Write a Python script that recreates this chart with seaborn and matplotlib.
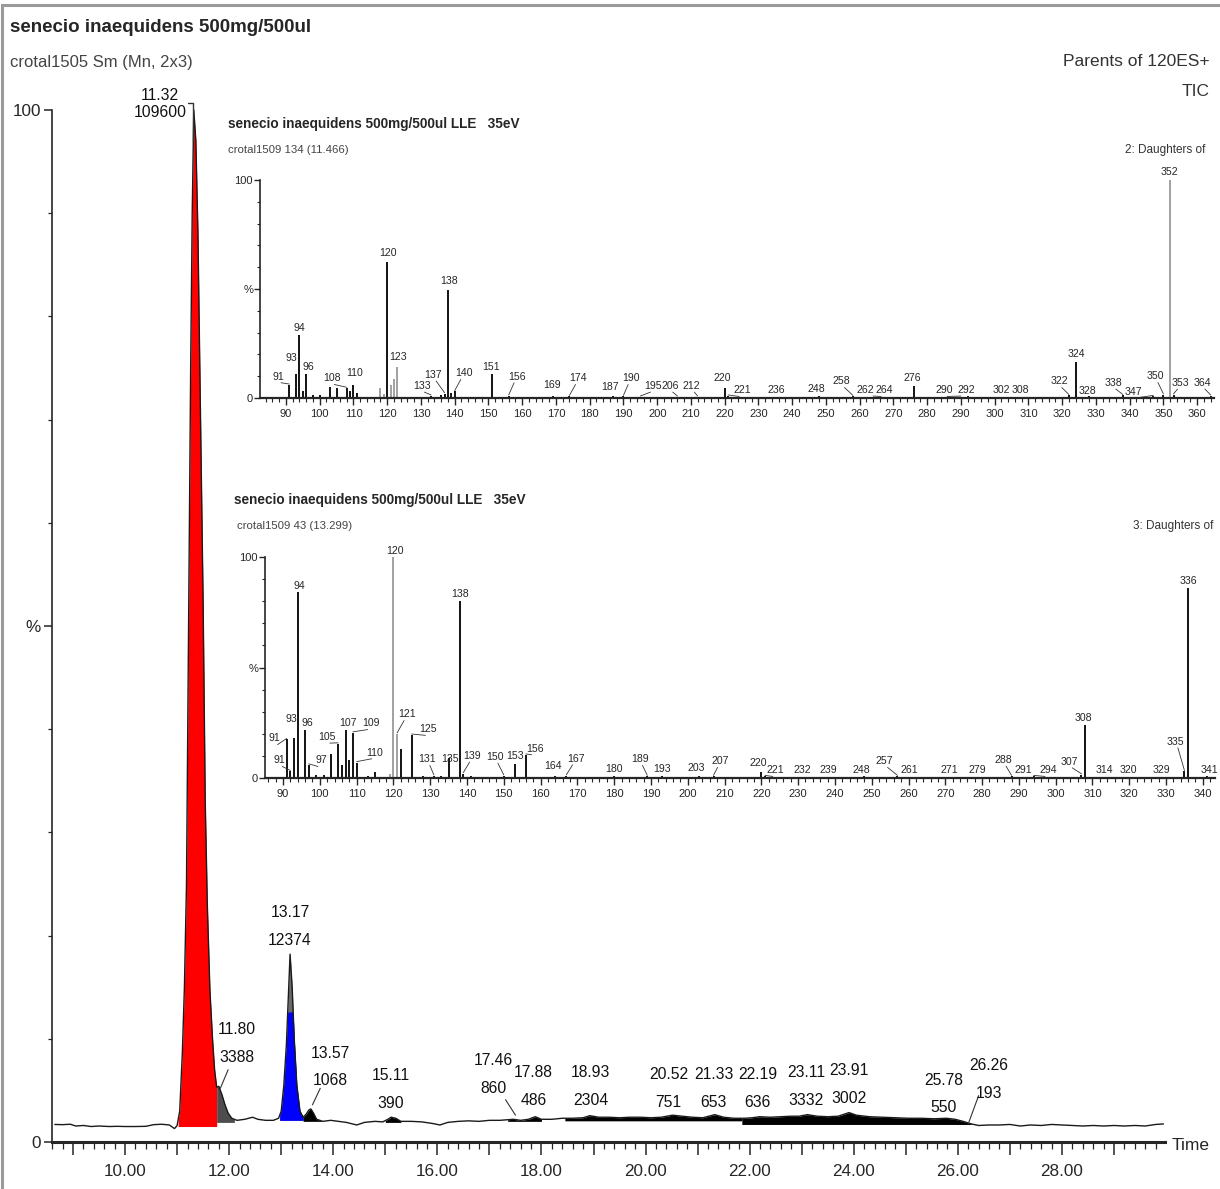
import numpy as np
import matplotlib
matplotlib.use("Agg")
import matplotlib.pyplot as plt
from matplotlib.ticker import MultipleLocator, FixedLocator, FuncFormatter
from matplotlib.patches import Rectangle
import seaborn as sns

# === Chromatogram (TIC, % of max) ===
tic_time = [8.65, 8.80, 8.95, 9.05, 9.20, 9.35, 9.50, 9.70, 9.85, 10.00, 10.20, 10.40,
            10.55, 10.70, 10.85, 10.95, 11.00, 11.05, 11.10, 11.14, 11.18, 11.22, 11.26,
            11.29, 11.32, 11.36, 11.40, 11.45, 11.50, 11.54, 11.58, 11.63, 11.68, 11.72,
            11.76, 11.80, 11.86, 11.92, 11.98, 12.05, 12.15, 12.30, 12.45, 12.55, 12.70,
            12.85, 12.95, 13.00, 13.05, 13.10, 13.14, 13.17, 13.21, 13.25, 13.30, 13.36,
            13.42, 13.48, 13.53, 13.57, 13.62, 13.68, 13.80, 13.95, 14.10, 14.25, 14.45,
            14.60, 14.80, 14.95, 15.05, 15.11, 15.20, 15.30, 15.50, 15.70, 15.90, 16.05,
            16.20, 16.40, 16.60, 16.80, 17.00, 17.20, 17.46, 17.60, 17.75, 17.88, 18.00,
            18.20, 18.40, 18.60, 18.80, 18.93, 19.10, 19.30, 19.50, 19.70, 19.90, 20.10,
            20.30, 20.52, 20.70, 20.90, 21.10, 21.33, 21.50, 21.70, 21.90, 22.05, 22.19,
            22.40, 22.60, 22.80, 22.95, 23.11, 23.30, 23.50, 23.70, 23.91, 24.05, 24.30,
            24.55, 24.80, 25.05, 25.30, 25.55, 25.78, 25.95, 26.10, 26.26, 26.40, 26.60,
            26.80, 27.00, 27.20, 27.40, 27.60, 27.80, 28.00, 28.20, 28.40, 28.60, 28.80,
            29.00, 29.20, 29.40, 29.60, 29.80, 29.95]
tic_pct = [1.70, 1.68, 1.72, 1.55, 1.60, 1.50, 1.55, 1.50, 1.52, 1.50, 1.50, 1.52,
           1.68, 1.72, 1.65, 1.30, 1.60, 3.0, 8.6, 15.0, 25.0, 50.0, 75.0,
           90.0, 100.0, 97.0, 88.0, 70.0, 52.0, 33.0, 23.0, 14.7, 10.0, 7.0,
           5.3, 5.4, 4.6, 3.6, 2.8, 2.3, 2.1, 2.2, 2.4, 2.2, 2.1,
           2.1, 2.3, 3.0, 5.5, 9.5, 14.5, 18.2, 15.0, 10.0, 5.5, 3.0,
           2.4, 2.7, 3.1, 3.2, 2.8, 2.2, 2.0, 2.1, 2.0, 1.9, 1.65,
           1.9, 2.0, 1.95, 2.2, 2.4, 2.3, 2.0, 2.0, 1.95, 1.80, 1.65,
           1.90, 2.0, 2.05, 2.0, 2.1, 2.1, 2.2, 2.1, 2.2, 2.45, 2.2,
           2.2, 2.3, 2.3, 2.35, 2.55, 2.4, 2.4, 2.35, 2.4, 2.4, 2.35,
           2.4, 2.6, 2.5, 2.4, 2.35, 2.65, 2.4, 2.3, 2.3, 2.35, 2.45,
           2.4, 2.45, 2.5, 2.5, 2.65, 2.5, 2.45, 2.5, 2.85, 2.6, 2.45,
           2.4, 2.35, 2.3, 2.3, 2.25, 2.3, 2.2, 2.0, 1.75, 1.6, 1.65,
           1.65, 1.7, 1.55, 1.65, 1.60, 1.70, 1.65, 1.60, 1.55, 1.60, 1.55,
           1.60, 1.55, 1.60, 1.55, 1.70, 1.75]

# integrated windows: start, end, integration baseline
win_start = [11.02, 11.76, 12.97, 13.42, 15.00, 17.35, 18.45, 21.85]
win_end = [11.76, 12.10, 13.42, 13.80, 15.30, 18.00, 21.85, 26.30]
win_base = [1.5, 1.9, 2.1, 2.0, 1.9, 2.0, 2.05, 1.7]

# peak labels (retention time / area)
peak_rt = [11.32, 11.80, 13.17, 13.57, 15.11, 17.46, 17.88, 18.93, 20.52, 21.33,
           22.19, 23.11, 23.91, 25.78, 26.26]
peak_area = [109600, 3388, 12374, 1068, 390, 860, 486, 2304, 751, 653,
             636, 3332, 3002, 550, 193]

# === Spectrum 1: crotal1509 134 (11.466) ===
ms1_mz = [91, 93, 94, 95, 96, 98, 100, 103, 105, 108, 109, 110, 111, 118, 119, 120,
          121, 122, 123, 133, 136, 137, 138, 139, 140, 151, 156, 169, 174, 187, 190,
          195, 206, 212, 220, 221, 236, 248, 258, 262, 264, 276, 290, 292, 302, 308,
          322, 324, 328, 338, 347, 350, 352, 353, 364]
ms1_int = [6, 11, 29, 3, 11, 1.5, 1.2, 5, 4.5, 4.5, 3, 6, 2.5, 4.5, 2, 62.5,
           6, 8.5, 14, 1.0, 1.5, 2.0, 49.5, 2.5, 3, 11, 1.0, 1.0, 0.8, 0.8, 0.8,
           0.5, 0.5, 0.5, 4.5, 1.0, 0.5, 0.8, 0.8, 0.5, 0.5, 5.5, 0.5, 1.0, 0.5, 0.5,
           1.2, 16.5, 0.8, 1.2, 0.8, 1.5, 100, 1.5, 1.0]
ms1_labels = [91, 93, 94, 96, 108, 110, 120, 123, 133, 137, 138, 140, 151, 156, 169,
              174, 187, 190, 195, 206, 212, 220, 221, 236, 248, 258, 262, 264, 276,
              290, 292, 302, 308, 322, 324, 328, 338, 347, 350, 352, 353, 364]

# === Spectrum 2: crotal1509 43 (13.299) ===
ms2_mz = [91, 92, 93, 94, 96, 97, 99, 101, 103, 105, 106, 107, 108, 109, 110, 113, 115,
          119, 120, 121, 122, 125, 128, 131, 133, 135, 138, 139, 141, 150, 153, 156,
          164, 167, 180, 189, 193, 203, 207, 220, 221, 232, 239, 248, 257, 261, 271,
          279, 288, 291, 294, 307, 308, 314, 320, 329, 335, 336, 341]
ms2_int = [17.5, 3, 18, 84, 21.5, 6, 1.5, 1.5, 11, 15.5, 6, 21.5, 8, 20.5, 7, 1, 2.7,
           2, 100, 20, 13, 19.5, 1, 1.0, 1, 9, 80, 2, 1, 1, 6.5, 10.5,
           1, 1, 0.8, 0.8, 0.8, 0.8, 0.8, 2.5, 0.8, 0.5, 0.5, 0.8, 0.8, 0.5, 0.5,
           0.5, 0.8, 0.5, 0.8, 1.5, 24, 0.5, 0.5, 0.5, 3, 86, 1]
ms2_lab_text = ["91", "91", "93", "94", "96", "97", "105", "107", "109", "110", "120",
                "121", "125", "131", "135", "138", "139", "150", "153", "156", "164",
                "167", "180", "189", "193", "203", "207", "220", "221", "232", "239",
                "248", "257", "261", "271", "279", "288", "291", "294", "307", "308",
                "314", "320", "329", "335", "336", "341"]
ms2_lab_mz = [91, 92, 93, 94, 96, 97, 105, 107, 109, 110, 120, 121, 125, 131, 135, 138,
              139, 150, 153, 156, 164, 167, 180, 189, 193, 203, 207, 220, 221, 232, 239,
              248, 257, 261, 271, 279, 288, 291, 294, 307, 308, 314, 320, 329, 335, 336, 341]

# === Layout (label anchors) ===
tic_lab_xy = [(10.67, 99.0), (12.15, 7.5), (13.17, 18.8), (13.94, 5.2), (15.10, 3.0),
              (17.08, 4.5), (17.85, 3.3), (18.94, 3.3), (20.44, 3.1), (21.31, 3.1),
              (22.15, 3.1), (23.08, 3.3), (23.90, 3.5), (25.73, 2.6), (26.60, 4.0)]
ms1_lab_xy = [(87.7, 9.8), (91.7, 18.3), (94.1, 32), (96.6, 14.4), (103.5, 9),
              (110.4, 11.5), (120.3, 66.7), (123.3, 18.8), (130.2, 5.5), (133.7, 10.6),
              (138.2, 53.8), (142.6, 11.3), (150.7, 14.4), (158.4, 9.8), (168.7, 6),
              (176.6, 9), (186, 5.2), (192.2, 9), (198.8, 5.5), (203.8, 5.5),
              (210.2, 5.5), (219.2, 9.2), (225.1, 3.5), (235.2, 3.5), (247.2, 4.0),
              (254.7, 7.6), (261.7, 3.5), (267.2, 3.5), (275.7, 9.2), (285.1, 3.5),
              (291.6, 3.5), (302.1, 3.5), (307.6, 3.5), (319.1, 7.6), (324.1, 20),
              (327.6, 3.0), (335.1, 6.9), (341, 2.8), (347.6, 9.9), (351.9, 103.5),
              (355, 6.9), (361.5, 6.9)]
ms2_lab_xy = [(87.7, 17.9), (89.0, 8.0), (92.2, 26.7), (94.4, 86.8), (96.7, 24.7),
              (100.3, 8.0), (101.9, 18.6), (107.7, 24.7), (113.8, 24.7), (114.9, 11.5),
              (120.5, 102.7), (123.7, 28.8), (129.5, 22.1), (129.1, 8.5), (135.4, 8.5),
              (138.1, 83.3), (141.5, 10), (147.6, 9.5), (153, 10), (158.4, 13.3),
              (163.3, 5.5), (169.5, 8.8), (180, 4), (186.9, 8.5), (192.9, 4),
              (202.2, 4.5), (208.9, 7.6), (219.2, 6.6), (223.9, 3.5), (231.2, 3.5),
              (238.3, 3.5), (247.2, 3.5), (253.5, 7.6), (260.2, 3.5), (271.1, 3.5),
              (278.8, 3.5), (285.7, 8.2), (291.2, 3.5), (297.9, 3.5), (303.7, 7.4),
              (307.6, 27.3), (313.2, 3.5), (319.8, 3.5), (328.7, 3.5), (332.4, 16.5),
              (336, 89.3), (341.9, 3.5)]
ms1_grey = [118, 119, 121, 122, 123, 352]
ms2_grey = [119, 120, 121]

W, H = 1220, 1189
sns.set_style("ticks")
plt.rcParams["font.family"] = ["Liberation Sans", "DejaVu Sans"]
plt.rcParams["axes.linewidth"] = 1.2

fig = plt.figure(figsize=(W / 100, H / 100), dpi=100)


def px(x, y):
    return x / W, 1 - y / H


def box(x0, y0, x1, y1):
    return [x0 / W, 1 - y1 / H, (x1 - x0) / W, (y1 - y0) / H]


fig.patches.append(Rectangle((0.002, -0.01), 1.1, 1.006, transform=fig.transFigure,
                             fill=False, edgecolor="#9a9a9a", lw=2.2))

# === Main chromatogram ===
ax = fig.add_axes(box(52, 110, 1165, 1142))
t = np.array(tic_time)
y = np.array(tic_pct)
for s, e, b, c in zip(win_start, win_end, win_base,
                      ["red", "#4d4d4d", "#6a6a6a", "black", "black", "black", "black", "black"]):
    tt = np.linspace(s, e, 200)
    yy = np.interp(tt, t, y)
    ax.fill_between(tt, b, yy, color=c, lw=0, clip_on=False)
    if c == "#6a6a6a":
        ax.fill_between(tt, b, np.minimum(yy, 12.6), color="#0000ff", lw=0)
sns.lineplot(x=tic_time, y=tic_pct, ax=ax, color="#1a1a1a", lw=1.0,
             estimator=None, sort=False, clip_on=False)

for rt, area, (lx, ly) in zip(peak_rt, peak_area, tic_lab_xy):
    ls = 1.23 if rt == peak_rt[0] else 2.05
    ax.text(lx, ly, f"{rt:.2f}\n{area}", ha="center", va="bottom", fontsize=11.3,
            linespacing=ls, color="#111", clip_on=False)
# leaders
ax.plot([11.21, 11.31, 11.31], [100.7, 100.7, 97], color="#333", lw=1.0, clip_on=False)
for (x0, y0), (x1, y1) in [((11.98, 7.0), (11.83, 5.2)), ((13.75, 5.2), (13.6, 3.6)),
                           ((17.31, 4.1), (17.5, 2.6)), ((26.40, 4.5), (26.21, 1.9))]:
    ax.plot([x0, x1], [y0, y1], color="#333", lw=0.8)

ax.set_xlim(8.596, 29.98)
ax.set_ylim(0, 100)
ax.xaxis.set_major_locator(MultipleLocator(1))
ax.xaxis.set_minor_locator(MultipleLocator(0.2))
ax.xaxis.set_major_formatter(FuncFormatter(lambda v, p: f"{v:.2f}" if round(v) % 2 == 0 else ""))
ax.yaxis.set_major_locator(FixedLocator([0, 50, 100]))
ax.yaxis.set_minor_locator(MultipleLocator(10))
ax.set_yticklabels(["0", "%", "100"])
ax.tick_params(axis="x", which="major", length=9, width=1.1, labelsize=12.3, pad=7)
ax.tick_params(axis="x", which="minor", length=5, width=0.9)
ax.tick_params(axis="y", which="major", length=6, width=1.1, labelsize=12.3, pad=2)
ax.tick_params(axis="y", which="minor", length=3, width=0.9)
ax.spines["bottom"].set_linewidth(2.2)
sns.despine(ax=ax)
ax.set_xlabel("")
ax.set_ylabel("")
ax.set_facecolor("none")
fig.text(*px(1172, 1145), "Time", fontsize=12.5, va="center", ha="left")

fig.text(*px(10, 27), "senecio inaequidens 500mg/500ul", fontsize=13.5, fontweight="bold", va="center")
fig.text(*px(10, 62), "crotal1505 Sm (Mn, 2x3)", fontsize=12, color="#444", va="center")
fig.text(*px(1210, 62), "Parents of 120ES+", fontsize=12.5, color="#333", va="center", ha="right")
fig.text(*px(1210, 92), "TIC", fontsize=12.5, color="#333", va="center", ha="right")


def spectrum(rect, mz, inten, grey, lab_text, lab_mz, lab_xy, xlim, xmax_tick):
    a = fig.add_axes(rect)
    cols = ["#9a9a9a" if m in grey else "black" for m in mz]
    a.vlines(mz, 0, inten, colors=cols, lw=1.3)
    for txt, m, (lx, ly) in zip(lab_text, lab_mz, lab_xy):
        a.text(lx, ly, txt, ha="center", va="center", fontsize=7.6, clip_on=False)
        h = inten[mz.index(m)]
        if abs(lx - m) > 1.5:
            a.plot([lx + 0.8 * np.sign(m - lx), m], [ly - 2.8, h + 0.4], color="#333", lw=0.6)
    a.set_xlim(*xlim)
    a.set_ylim(0, 100)
    a.xaxis.set_major_locator(FixedLocator(list(range(90, xmax_tick + 1, 10))))
    a.xaxis.set_minor_locator(MultipleLocator(2))
    a.yaxis.set_major_locator(FixedLocator([0, 50, 100]))
    a.yaxis.set_minor_locator(MultipleLocator(10))
    a.set_yticklabels(["0", "%", "100"])
    a.tick_params(axis="x", which="major", length=5, width=1.0, labelsize=8, pad=3)
    a.tick_params(axis="x", which="minor", length=3, width=0.8)
    a.tick_params(axis="y", which="major", length=4, width=1.0, labelsize=8, pad=1)
    a.tick_params(axis="y", which="minor", length=2, width=0.8)
    a.spines["bottom"].set_linewidth(1.6)
    a.patch.set_alpha(0)
    sns.despine(ax=a)
    return a


spectrum(box(260, 180, 1214, 398), ms1_mz, ms1_int, ms1_grey,
         [str(m) for m in ms1_labels], ms1_labels, ms1_lab_xy, (82.3, 365.0), 360)
spectrum(box(265, 557, 1215, 778), ms2_mz, ms2_int, ms2_grey,
         ms2_lab_text, ms2_lab_mz, ms2_lab_xy, (85.1, 343.3), 340)

fig.text(*px(228, 124), "senecio inaequidens 500mg/500ul LLE   35eV", fontsize=9.8,
         fontweight="bold", va="center")
fig.text(*px(228, 150), "crotal1509 134 (11.466)", fontsize=8.2, color="#444", va="center")
fig.text(*px(1125, 150), "2: Daughters of", fontsize=8.5, color="#333", va="center")
fig.text(*px(234, 500), "senecio inaequidens 500mg/500ul LLE   35eV", fontsize=9.8,
         fontweight="bold", va="center")
fig.text(*px(237, 526), "crotal1509 43 (13.299)", fontsize=8.2, color="#444", va="center")
fig.text(*px(1133, 526), "3: Daughters of", fontsize=8.5, color="#333", va="center")

fig.savefig("out.png", dpi=100)
